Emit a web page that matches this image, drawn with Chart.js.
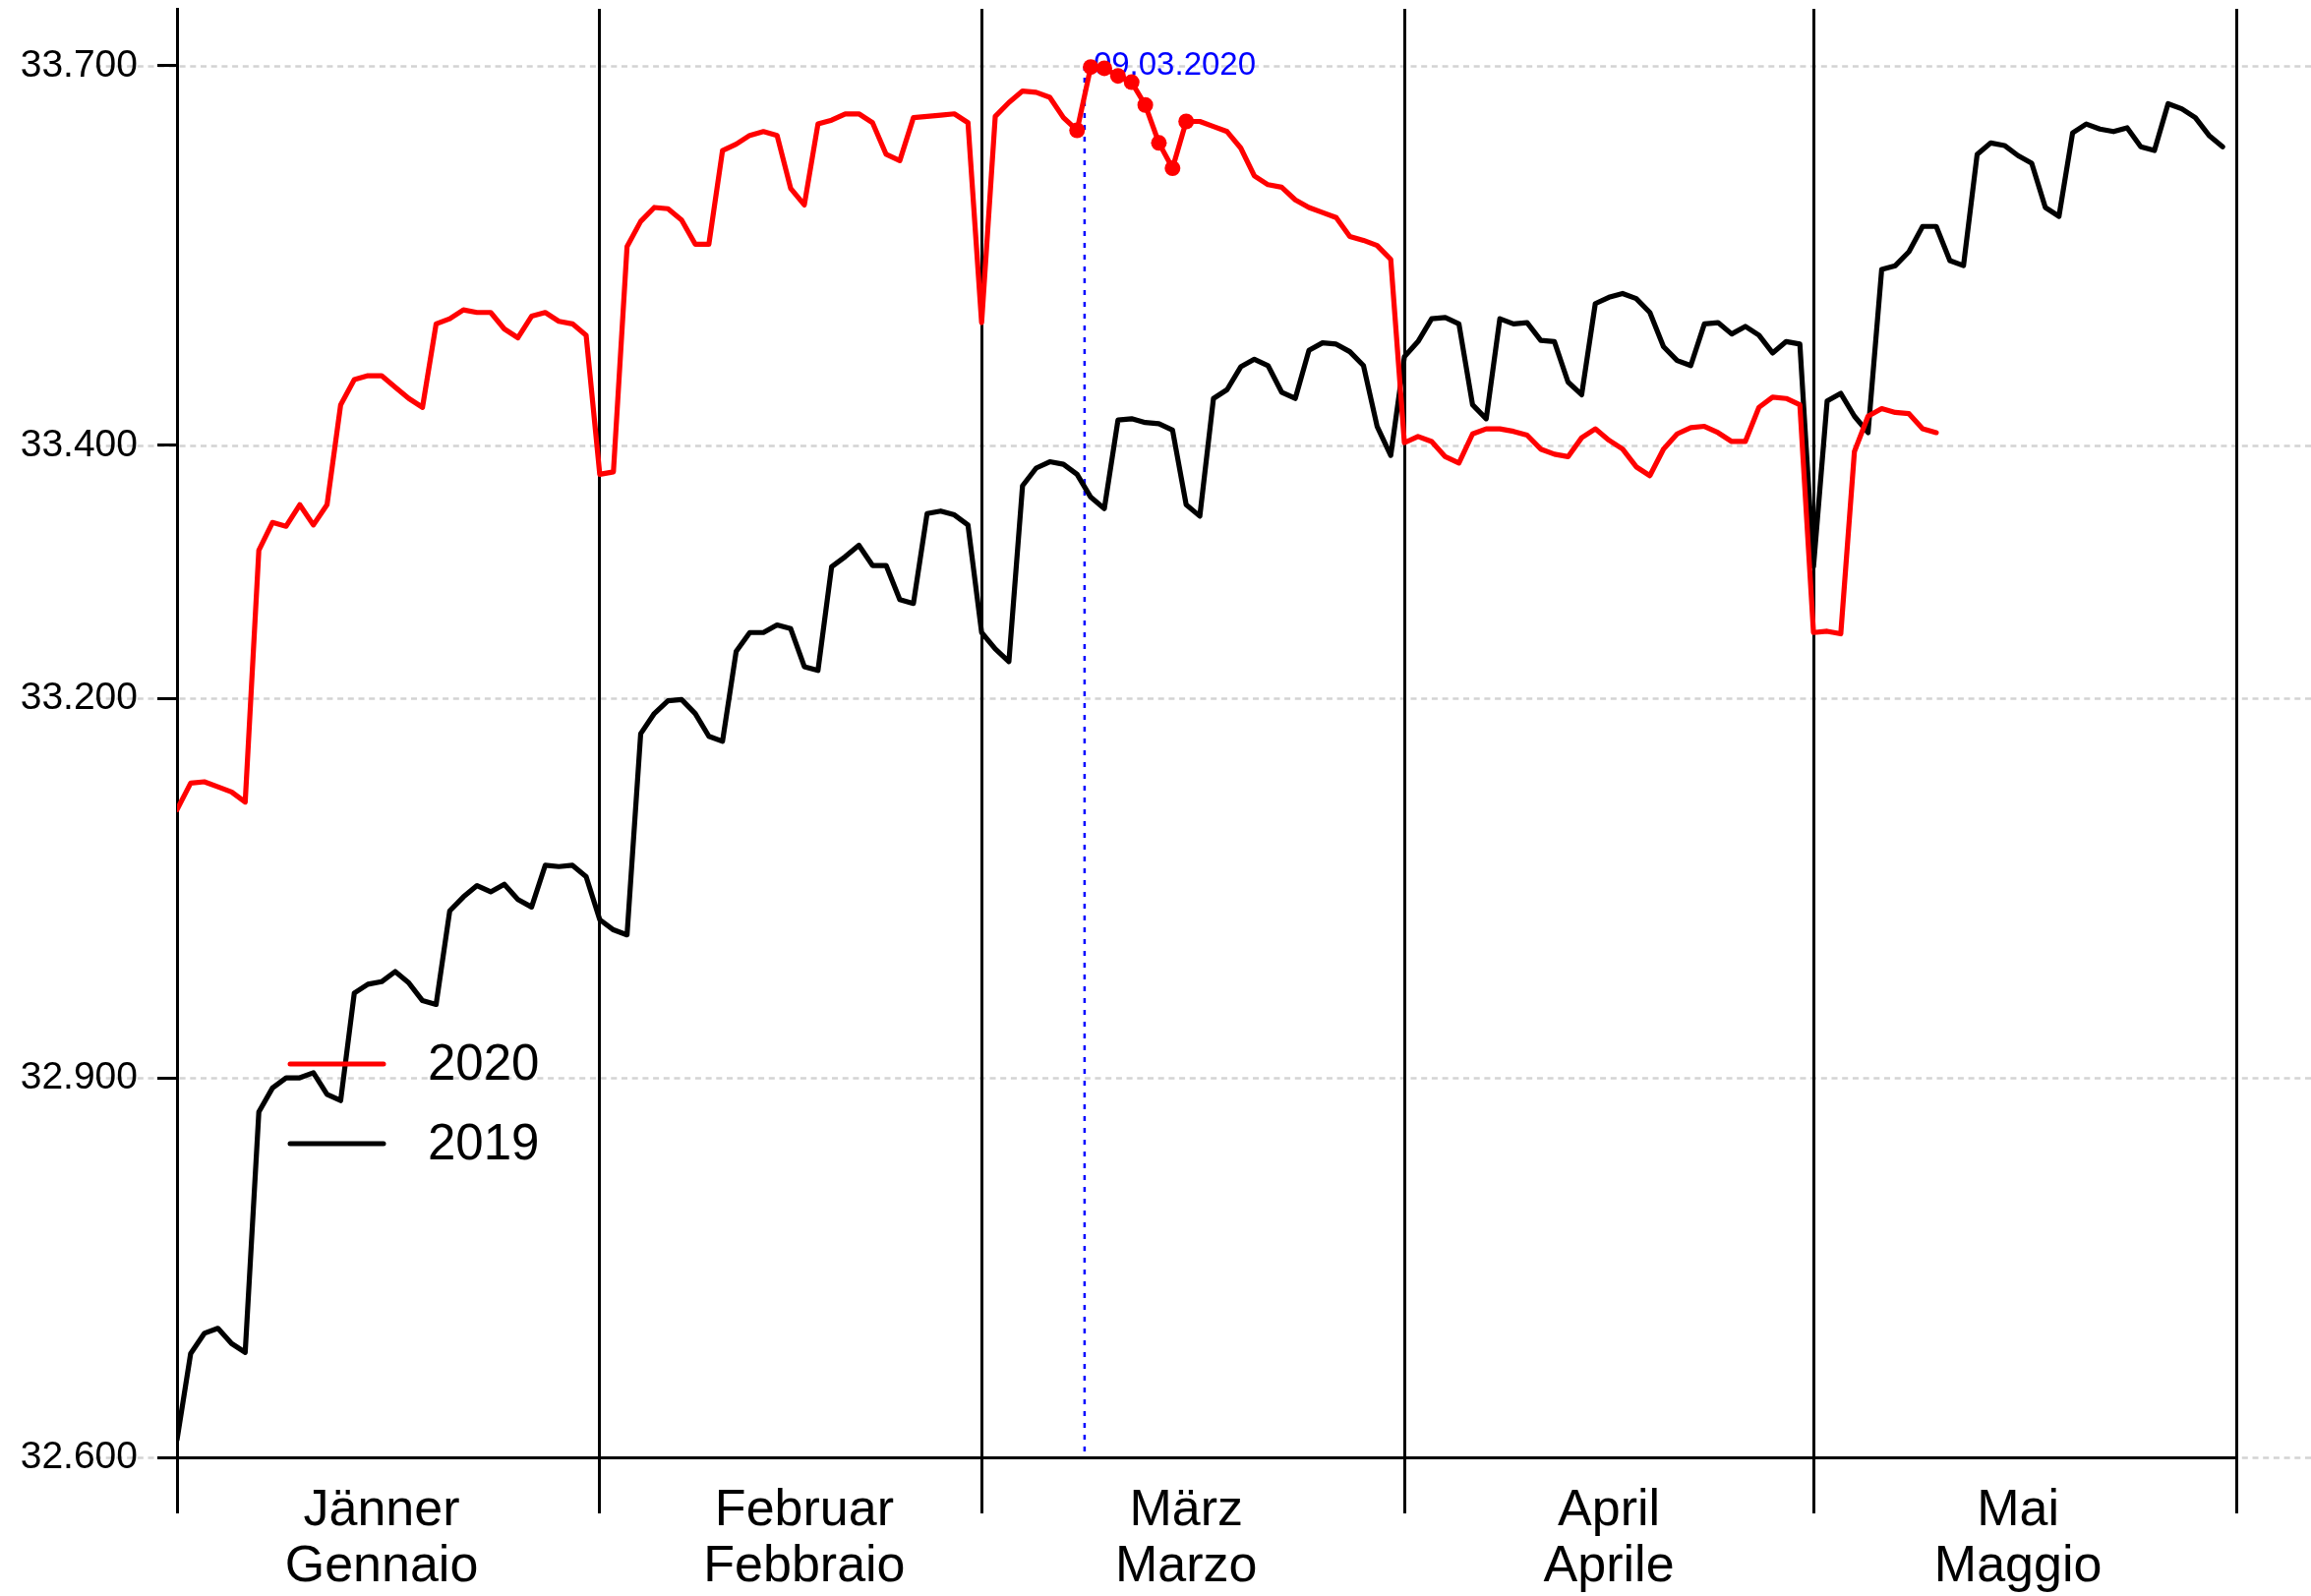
<!DOCTYPE html>
<html>
<head>
<meta charset="utf-8">
<script src="https://cdn.jsdelivr.net/npm/chart.js@4.4.1/dist/chart.umd.min.js"></script>
<style>
  html, body { margin: 0; padding: 0; background: #fff; }
  #wrap { width: 2350px; height: 1623px; }
</style>
</head>
<body>
<div id="wrap"><canvas id="chart" width="2350" height="1623"></canvas></div>
<script>
// day index 0 = 1 January, month borders on the x axis
var monthStarts = [0, 31, 59, 90, 120, 151];
var monthNamesDe = ["Jänner", "Februar", "März", "April", "Mai"];
var monthNamesIt = ["Gennaio", "Febbraio", "Marzo", "Aprile", "Maggio"];
var labelDayInMonth = 15; // names sit on the 16th of each month

var yTicks = [32600, 32900, 33200, 33400, 33700];
var yMin = 32600;
var yMax = 33745;

// daily values, 2019 (1 Jan - 31 May)
var values2019 = [
  32614, 32682, 32698, 32702, 32690, 32683, 32873, 32892, 32900, 32900,
  32904, 32887, 32882, 32967, 32974, 32976, 32984, 32975, 32961, 32958,
  33032, 33043, 33052, 33047, 33053, 33041, 33035, 33068, 33067, 33068,
  33059, 33025, 33017, 33013, 33172, 33188, 33198, 33199, 33188, 33170,
  33166, 33237, 33252, 33252, 33258, 33255, 33225, 33222, 33304, 33312,
  33321, 33305, 33305, 33278, 33275, 33346, 33348, 33345, 33337, 33252,
  33239, 33229, 33368, 33382, 33387, 33385, 33377, 33359, 33350, 33420,
  33421, 33418, 33417, 33412, 33353, 33344, 33437, 33444, 33462, 33468,
  33463, 33442, 33437, 33475, 33481, 33480, 33474, 33463, 33415, 33392,
  33470, 33482, 33500, 33501, 33496, 33432, 33421, 33500, 33496, 33497,
  33483, 33482, 33450, 33440, 33512, 33517, 33520, 33516, 33505, 33478,
  33467, 33463, 33496, 33497, 33488, 33494, 33487, 33473, 33482, 33480,
  33304, 33435, 33441, 33423, 33410, 33539, 33542, 33553, 33573, 33573,
  33546, 33542, 33630, 33639, 33637, 33629, 33623, 33588, 33581, 33647,
  33654, 33650, 33648, 33651, 33636, 33633, 33670, 33666, 33659, 33645,
  33636
];

// daily values, 2020 (1 Jan - 10 May)
var values2020 = [
  33112, 33133, 33134, 33130, 33126, 33118, 33317, 33339, 33336, 33353,
  33337, 33353, 33432, 33452, 33455, 33455, 33446, 33437, 33430, 33496,
  33500, 33507, 33505, 33505, 33492, 33485, 33502, 33505, 33498, 33496,
  33487, 33377, 33379, 33557, 33577, 33588, 33587, 33578, 33559, 33559,
  33633, 33638, 33645, 33648, 33645, 33603, 33590, 33654, 33657, 33662,
  33662, 33655, 33630, 33625, 33659, 33660, 33661, 33662, 33655, 33497,
  33660, 33671, 33680, 33679, 33675, 33659, 33649, 33699, 33698, 33692,
  33687, 33669, 33639, 33619, 33656, 33656, 33652, 33648, 33635, 33613,
  33606, 33604, 33594, 33588, 33584, 33580, 33565, 33562, 33558, 33547,
  33402, 33407, 33403, 33391, 33386, 33409, 33413, 33413, 33411, 33408,
  33397, 33393, 33391, 33406, 33413, 33404, 33397, 33383, 33376, 33397,
  33409, 33414, 33415, 33410, 33403, 33403, 33430, 33438, 33437, 33432,
  33252, 33253, 33251, 33395, 33423, 33429, 33426, 33425, 33413, 33410
];

// 2020 days shown with a dot
var markedDays = [66, 67, 68, 69, 70, 71, 72, 73, 74];

var eventDay = 66.55;
var eventValue = 33700;
var eventLabel = "09.03.2020";

var FONT = "'Liberation Sans', Arial, Helvetica, sans-serif";
Chart.defaults.font.family = FONT;

function toPoints(values) {
  return values.map(function (v, i) { return { x: i, y: v }; });
}

// dashed gridlines across the whole figure width
var paperPlugin = {
  id: "paper",
  beforeDraw: function (chart) {
    var c = chart.ctx, ys = chart.scales.y;
    c.save();
    c.fillStyle = "#fff";
    c.fillRect(0, 0, chart.width, chart.height);
    c.strokeStyle = "#d3d3d3";
    c.lineWidth = 2.7;
    c.setLineDash([6, 4.7]);
    yTicks.forEach(function (v) {
      var py = Math.round(ys.getPixelForValue(v)) + 0.5;
      c.beginPath();
      c.moveTo(97, py);
      c.lineTo(chart.width, py);
      c.stroke();
    });
    c.restore();
  }
};

// blue dotted marker line + date
var eventPlugin = {
  id: "event",
  beforeDatasetsDraw: function (chart) {
    var c = chart.ctx, xs = chart.scales.x, ys = chart.scales.y;
    var px = xs.getPixelForValue(eventDay);
    var top = ys.getPixelForValue(eventValue);
    c.save();
    c.strokeStyle = "#0000ff";
    c.lineWidth = 2.5;
    c.setLineDash([5, 7]);
    c.beginPath();
    c.moveTo(px, top);
    c.lineTo(px, chart.chartArea.bottom);
    c.stroke();
    c.fillStyle = "#0000ff";
    c.font = "33px " + FONT;
    c.textAlign = "left";
    c.textBaseline = "middle";
    c.fillText(eventLabel, px + 9, top);
    c.restore();
  }
};

// legend inside the plot, bottom left
var legendPlugin = {
  id: "innerLegend",
  afterDatasetsDraw: function (chart) {
    var c = chart.ctx, area = chart.chartArea;
    var items = [chart.data.datasets[1], chart.data.datasets[0]];
    var x0 = area.left + 115, y0 = area.bottom - 400;
    c.save();
    c.font = "51px " + FONT;
    c.textAlign = "left";
    c.textBaseline = "middle";
    items.forEach(function (ds, i) {
      var y = y0 + i * 81;
      c.strokeStyle = ds.borderColor;
      c.lineWidth = 5;
      c.lineCap = "round";
      c.beginPath();
      c.moveTo(x0, y);
      c.lineTo(x0 + 95, y);
      c.stroke();
      c.fillStyle = "#000";
      c.fillText(ds.label, x0 + 140, y + 2);
    });
    c.restore();
  }
};

// two-line month names under each month
var monthPlugin = {
  id: "monthLabels",
  afterDraw: function (chart) {
    var c = chart.ctx, xs = chart.scales.x, bottom = chart.chartArea.bottom;
    c.save();
    c.font = "52px " + FONT;
    c.fillStyle = "#000";
    c.textAlign = "center";
    c.textBaseline = "alphabetic";
    for (var i = 0; i < monthNamesDe.length; i++) {
      var px = xs.getPixelForValue(monthStarts[i] + labelDayInMonth);
      c.fillText(monthNamesDe[i], px, bottom + 69);
      c.fillText(monthNamesIt[i], px, bottom + 126);
    }
    c.restore();
  }
};

var ctx = document.getElementById("chart");
var chart = new Chart(ctx, {
  type: "line",
  data: {
    datasets: [
      {
        label: "2019",
        data: toPoints(values2019),
        borderColor: "#000000",
        backgroundColor: "#000000",
        borderWidth: 5.2,
        borderJoinStyle: "round",
        borderCapStyle: "round",
        pointRadius: 0,
        tension: 0,
        order: 2
      },
      {
        label: "2020",
        data: toPoints(values2020),
        borderColor: "#ff0000",
        backgroundColor: "#ff0000",
        borderWidth: 5.2,
        borderJoinStyle: "round",
        borderCapStyle: "round",
        pointRadius: function (c) { return markedDays.indexOf(c.dataIndex) >= 0 ? 8 : 0; },
        pointBorderWidth: 0,
        pointBackgroundColor: "#ff0000",
        tension: 0,
        order: 1
      }
    ]
  },
  options: {
    responsive: false,
    animation: false,
    layout: { padding: { top: 9, right: 76, bottom: 84, left: 0 } },
    plugins: {
      legend: { display: false },
      tooltip: { enabled: false }
    },
    scales: {
      x: {
        type: "linear",
        min: monthStarts[0],
        max: monthStarts[monthStarts.length - 1],
        afterBuildTicks: function (s) {
          s.ticks = monthStarts.map(function (v) { return { value: v }; });
        },
        ticks: { display: false },
        grid: { color: "#000", lineWidth: 3, drawTicks: true, tickLength: 57, tickColor: "#000", tickWidth: 3 },
        border: { display: true, color: "#000", width: 3 }
      },
      y: {
        type: "linear",
        min: yMin,
        max: yMax,
        afterBuildTicks: function (s) {
          s.ticks = yTicks.map(function (v) { return { value: v }; });
        },
        afterFit: function (s) {
          s.width = 180;
          s.paddingTop = 0;
          s.paddingBottom = 0;
        },
        ticks: {
          color: "#000",
          font: { size: 39 },
          padding: 20,
          callback: function (v) { return (v / 1000).toFixed(3); }
        },
        grid: { drawOnChartArea: false, drawTicks: true, tickLength: 20, tickColor: "#000", tickWidth: 3 },
        border: { display: true, color: "#000", width: 3 }
      }
    }
  },
  plugins: [paperPlugin, eventPlugin, legendPlugin, monthPlugin]
});
</script>
</body>
</html>
